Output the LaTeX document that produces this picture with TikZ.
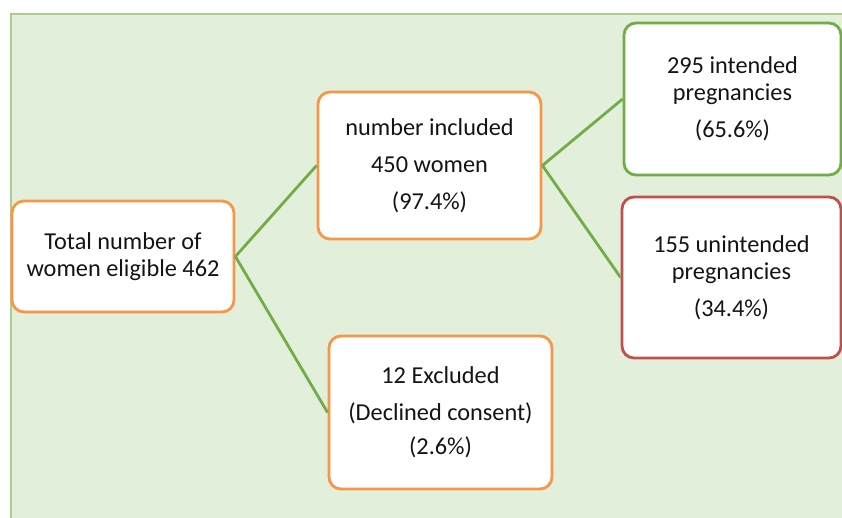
\documentclass[tikz,border=0pt]{standalone}
\usepackage{fontspec}
\setmainfont{Carlito}
\definecolor{bgfill}{HTML}{E2EFDA}
\definecolor{bgline}{HTML}{A9D18E}
\definecolor{orangeline}{HTML}{F79646}
\definecolor{greenline}{HTML}{70AD47}
\definecolor{redline}{HTML}{C0504D}
\definecolor{txt}{HTML}{141414}
\tikzset{
  box/.style={draw, line width=2.8pt, rounded corners=12pt, fill=white, inner sep=0pt,
    align=center, text=txt, font=\fontsize{24.3}{27}\selectfont},
  obox/.style={box, draw=orangeline},
  gbox/.style={box, draw=greenline},
  rbox/.style={box, draw=redline},
  link/.style={draw=greenline, line width=2.8pt}
}
\begin{document}
\begin{tikzpicture}[x=1pt,y=-1pt]
\useasboundingbox (0,0) rectangle (842,517);
\fill[bgfill] (11,14) rectangle (845,520);
\draw[bgline, line width=2pt] (845,14) -- (11,14) -- (11,520);
\node[obox, minimum width=222pt, minimum height=111pt] (A) at (123,256.5) {Total number of\\women eligible 462};
\node[obox, minimum width=223pt, minimum height=147pt] (B) at (429.5,165.5) {number included\\[10pt]450 women\\[10pt](97.4\%)};
\node[obox, minimum width=223pt, minimum height=153pt] (C) at (440.5,412.5) {12 Excluded\\[10pt](Declined consent)\\[7pt](2.6\%)};
\node[gbox, minimum width=217pt, minimum height=152pt] (D) at (732.5,99) {295 intended\\pregnancies\\[10pt](65.6\%)};
\node[rbox, minimum width=219pt, minimum height=161pt] (E) at (731.5,277.5) {155 unintended\\pregnancies\\[10pt](34.4\%)};
\draw[link] (A.east) -- (B.west);
\draw[link] (A.east) -- (C.west);
\draw[link] (B.east) -- (D.west);
\draw[link] (B.east) -- (E.west);
\end{tikzpicture}
\end{document}
